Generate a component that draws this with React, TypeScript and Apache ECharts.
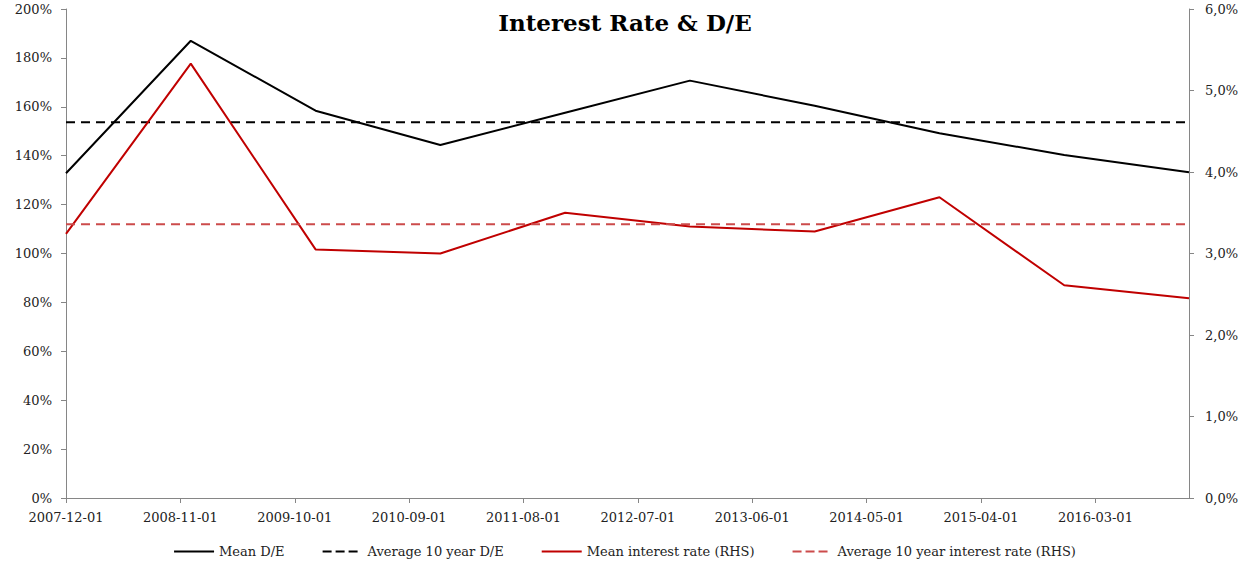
import React, { useEffect, useRef } from "react";
import * as echarts from "echarts";

const dates = [
  "2007-12-01", "2008-12-01", "2009-12-01", "2010-12-01", "2011-12-01",
  "2012-12-01", "2013-12-01", "2014-12-01", "2015-12-01", "2016-12-01",
];
const meanDE = [132.8, 187.0, 158.4, 144.4, 157.6, 170.7, 160.4, 149.2, 140.3, 133.2];
const avgDE10y = 153.7;
const meanRate = [3.24, 5.33, 3.05, 3.0, 3.5, 3.33, 3.27, 3.69, 2.61, 2.45];
const avgRate10y = 3.36;
const startDate = "2007-12-01";
const endDate = "2016-12-01";
const labelStepMonths = 11;

const monthIndex = (d: string) => {
  const [y, m] = d.split("-").map(Number);
  const [y0, m0] = startDate.split("-").map(Number);
  return (y - y0) * 12 + (m - m0);
};
const monthLabel = (idx: number) => {
  const [y0, m0] = startDate.split("-").map(Number);
  const total = y0 * 12 + (m0 - 1) + Math.round(idx);
  const y = Math.floor(total / 12);
  const m = (total % 12) + 1;
  return `${y}-${String(m).padStart(2, "0")}-01`;
};

const FONT = "DejaVu Serif";
const SOLID_ICON = "path://M0,0H40V2H0Z";
const DASH_ICON = "path://M0,0H9V2H0Z M13,0H22V2H13Z M26,0H35V2H26Z M40,0H40.01V2H40Z";

export default function App() {
  const ref = useRef<HTMLDivElement>(null);
  useEffect(() => {
    document.body.style.margin = "0";
    const chart = echarts.init(ref.current!, null, { renderer: "svg" });
    const xs = dates.map(monthIndex);
    const axisLine = { show: true, lineStyle: { color: "#868686", width: 1 } };
    const axisTick = { show: true, length: 5, lineStyle: { color: "#868686" } };
    const labelStyle = { color: "#222", fontFamily: FONT, fontSize: 13 };
    chart.setOption({
      animation: false,
      backgroundColor: "#fff",
      title: {
        text: "Interest Rate & D/E",
        left: "center",
        top: 6,
        textStyle: { fontFamily: FONT, fontWeight: "bold", fontSize: 23, color: "#000" },
      },
      grid: { left: 66, right: 61, top: 9, bottom: 67 },
      legend: {
        bottom: 7,
        left: "center",
        padding: 0,
        itemGap: 38,
        itemWidth: 40,
        itemHeight: 2,
        textStyle: { fontFamily: FONT, fontSize: 13, color: "#222" },
        data: [
          { name: "Mean D/E", icon: SOLID_ICON },
          { name: "Average 10 year D/E", icon: DASH_ICON },
          { name: "Mean interest rate (RHS)", icon: SOLID_ICON },
          { name: "Average 10 year interest rate (RHS)", icon: DASH_ICON },
        ],
      },
      xAxis: {
        type: "value",
        min: 0,
        max: monthIndex(endDate),
        interval: labelStepMonths,
        splitLine: { show: false },
        axisLine,
        axisTick,
        axisLabel: {
          ...labelStyle,
          margin: 13,
          showMaxLabel: false,
          formatter: (v: number) => monthLabel(v),
        },
      },
      yAxis: [
        {
          type: "value",
          min: 0,
          max: 200,
          interval: 20,
          splitLine: { show: false },
          axisLine,
          axisTick,
          axisLabel: { ...labelStyle, margin: 14, formatter: (v: number) => `${v}%` },
        },
        {
          type: "value",
          position: "right",
          min: 0,
          max: 6,
          interval: 1,
          splitLine: { show: false },
          axisLine,
          axisTick,
          axisLabel: {
            ...labelStyle,
            margin: 16,
            formatter: (v: number) => `${v.toFixed(1).replace(".", ",")}%`,
          },
        },
      ],
      series: [
        {
          name: "Mean D/E",
          type: "line",
          yAxisIndex: 0,
          symbol: "none",
          lineStyle: { color: "#000", width: 2 },
          itemStyle: { color: "#000" },
          data: xs.map((x, i) => [x, meanDE[i]]),
        },
        {
          name: "Average 10 year D/E",
          type: "line",
          yAxisIndex: 0,
          symbol: "none",
          lineStyle: { color: "#000", width: 2, type: [9, 6] },
          itemStyle: { color: "#000" },
          data: xs.map((x) => [x, avgDE10y]),
        },
        {
          name: "Mean interest rate (RHS)",
          type: "line",
          yAxisIndex: 1,
          symbol: "none",
          lineStyle: { color: "#c00000", width: 2 },
          itemStyle: { color: "#c00000" },
          data: xs.map((x, i) => [x, meanRate[i]]),
        },
        {
          name: "Average 10 year interest rate (RHS)",
          type: "line",
          yAxisIndex: 1,
          symbol: "none",
          lineStyle: { color: "#cc4b4b", width: 2, type: [9, 6] },
          itemStyle: { color: "#cc4b4b" },
          data: xs.map((x) => [x, avgRate10y]),
        },
      ],
    });
    return () => chart.dispose();
  }, []);
  return <div ref={ref} style={{ width: 1250, height: 565 }} />;
}
